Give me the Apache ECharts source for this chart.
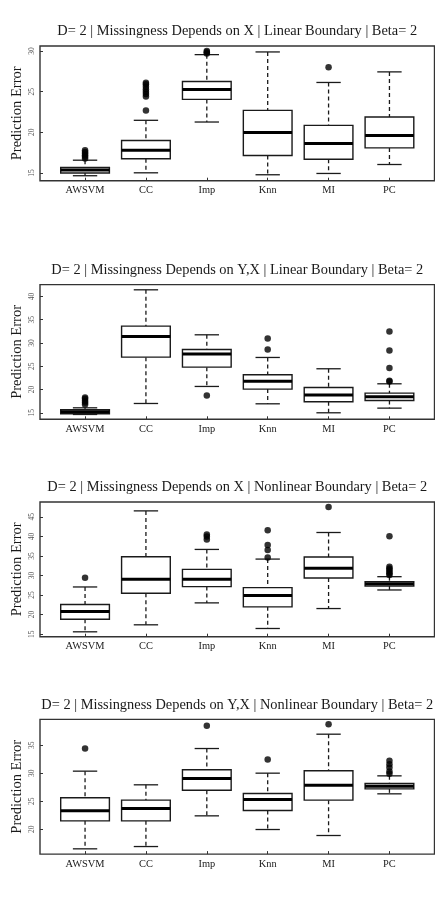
<!DOCTYPE html>
<html>
<head>
<meta charset="utf-8">
<script src="https://cdn.jsdelivr.net/npm/echarts@6/dist/echarts.min.js"></script>
<style>
html, body { margin: 0; padding: 0; background: #fff; }
#main { width: 435px; height: 898px; }
</style>
</head>
<body>
<div id="main"></div>
<script>
var methods = ['AWSVM', 'CC', 'Imp', 'Knn', 'MI', 'PC'];

var titles = [
    'D= 2 | Missingness Depends on X | Linear Boundary | Beta= 2',
    'D= 2 | Missingness Depends on Y,X | Linear Boundary | Beta= 2',
    'D= 2 | Missingness Depends on X | Nonlinear Boundary | Beta= 2',
    'D= 2 | Missingness Depends on Y,X | Nonlinear Boundary | Beta= 2'
];

// box stats per method: [lower whisker, Q1, median, Q3, upper whisker]
var stats1 = [
    [14.67, 15.0, 15.36, 15.69, 16.58],
    [15.03, 16.75, 17.81, 18.99, 21.48],
    [21.27, 24.05, 25.27, 26.25, 29.55],
    [14.79, 17.15, 19.97, 22.7, 29.88],
    [14.95, 16.7, 18.62, 20.86, 26.13],
    [16.05, 18.09, 19.6, 21.88, 27.43]
];
var outliers1 = [
    [16.8, 17.0, 17.2, 17.4, 17.6, 17.8],
    [22.7, 24.4, 24.7, 25.0, 25.3, 25.6, 25.9, 26.1],
    [29.7, 29.85, 30.0],
    [],
    [28.0],
    []
];

var stats2 = [
    [14.64, 14.79, 15.21, 15.64, 16.07],
    [17.0, 26.96, 31.4, 33.62, 41.43],
    [20.66, 24.81, 27.61, 28.61, 31.76],
    [16.93, 20.09, 21.8, 23.17, 26.89],
    [15.0, 17.36, 18.8, 20.44, 24.46],
    [16.0, 17.65, 18.44, 19.23, 21.23]
];
var outliers2 = [
    [16.8, 17.2, 17.6, 18.0, 18.3],
    [],
    [18.72],
    [28.6, 30.97],
    [],
    [21.7, 21.9, 24.6, 28.4, 32.48]
];

var stats3 = [
    [15.6, 18.83, 20.79, 22.57, 27.07],
    [17.39, 25.46, 29.03, 34.8, 46.53],
    [23.0, 27.16, 29.03, 31.58, 36.67],
    [16.45, 21.98, 24.86, 26.9, 34.2],
    [21.55, 29.37, 31.83, 34.72, 41.0],
    [26.3, 27.33, 27.92, 28.43, 29.7]
];
var outliers3 = [
    [29.45],
    [],
    [39.2, 40.0, 40.5],
    [34.6, 36.5, 37.8, 41.6],
    [47.55],
    [30.1, 30.5, 30.9, 31.4, 31.8, 32.25, 40.07]
];

var stats4 = [
    [16.49, 21.49, 23.27, 25.6, 30.36],
    [16.9, 21.49, 23.69, 25.18, 27.92],
    [22.38, 26.96, 29.05, 30.6, 34.4],
    [19.94, 23.33, 25.3, 26.37, 30.0],
    [18.87, 25.18, 27.86, 30.42, 36.96],
    [26.31, 27.2, 27.68, 28.15, 29.52]
];
var outliers4 = [
    [34.4],
    [],
    [38.45],
    [32.44],
    [38.75],
    [29.9, 30.3, 31.0, 31.6, 32.2]
];

var yTicks1 = [15, 20, 25, 30];
var yTicks2 = [15, 20, 25, 30, 35, 40];
var yTicks3 = [15, 20, 25, 30, 35, 40, 45];
var yTicks4 = [20, 25, 30, 35];

var panels = [
    {stats: stats1, out: outliers1, ticks: yTicks1, min: 14.06, max: 30.61, top: 46},
    {stats: stats2, out: outliers2, ticks: yTicks2, min: 13.6, max: 42.55, top: 284.6},
    {stats: stats3, out: outliers3, ticks: yTicks3, min: 14.35, max: 48.8, top: 502},
    {stats: stats4, out: outliers4, ticks: yTicks4, min: 15.55, max: 39.6, top: 719.4}
];

var serif = 'Liberation Serif';
var ink = '#1a1a1a';

function renderBox(params, api) {
    var x = api.value(0);
    var lo = api.coord([x, api.value(1)]);
    var q1 = api.coord([x, api.value(2)]);
    var md = api.coord([x, api.value(3)]);
    var q3 = api.coord([x, api.value(4)]);
    var hi = api.coord([x, api.value(5)]);
    var w = api.size([0.8, 0])[0];
    var cx = lo[0];
    var solid = {stroke: ink, lineWidth: 1.3};
    var dash = {stroke: ink, lineWidth: 1.3, lineDash: [4, 3]};
    return {
        type: 'group',
        children: [
            {type: 'line', shape: {x1: cx, y1: hi[1], x2: cx, y2: q3[1]}, style: dash},
            {type: 'line', shape: {x1: cx, y1: q1[1], x2: cx, y2: lo[1]}, style: dash},
            {type: 'line', shape: {x1: cx - w / 4, y1: hi[1], x2: cx + w / 4, y2: hi[1]}, style: solid},
            {type: 'line', shape: {x1: cx - w / 4, y1: lo[1], x2: cx + w / 4, y2: lo[1]}, style: solid},
            {type: 'rect', shape: {x: cx - w / 2, y: q3[1], width: w, height: q1[1] - q3[1]},
                style: {fill: '#fff', stroke: ink, lineWidth: 1.4}},
            {type: 'line', shape: {x1: cx - w / 2, y1: md[1], x2: cx + w / 2, y2: md[1]},
                style: {stroke: '#000', lineWidth: 3}}
        ]
    };
}

var grid = [], xAxis = [], yAxis = [], series = [];

panels.forEach(function (p, k) {
    grid.push({
        left: 40, right: 0.5, top: p.top, height: 134.7,
        outerBoundsMode: 'none', containLabel: false,
        show: true, borderColor: '#333', borderWidth: 1.4, backgroundColor: 'transparent'
    });
    // bottom axis: category labels
    xAxis.push({
        gridIndex: k, type: 'value', min: 0.26, max: 6.74,
        axisLine: {show: false},
        splitLine: {show: false},
        axisTick: {show: true, inside: true, length: 3, customValues: [1, 2, 3, 4, 5, 6],
            lineStyle: {color: '#333'}},
        axisLabel: {
            customValues: [1, 2, 3, 4, 5, 6],
            formatter: function (v) { return methods[Math.round(v) - 1]; },
            fontFamily: serif, fontSize: 10.4, color: ink, margin: 5
        }
    });
    // top axis: carries the panel title, centred over the plot
    xAxis.push({
        gridIndex: k, type: 'value', position: 'top', min: 0.26, max: 6.74,
        name: titles[k], nameLocation: 'middle', nameGap: 7.5,
        nameTextStyle: {fontFamily: serif, fontSize: 14.4, color: ink},
        axisLine: {show: false}, axisTick: {show: false},
        axisLabel: {show: false}, splitLine: {show: false}
    });
    yAxis.push({
        gridIndex: k, type: 'value', min: p.min, max: p.max,
        name: 'Prediction Error', nameLocation: 'middle', nameGap: 15, nameRotate: 90,
        nameMoveOverlap: false,
        nameTextStyle: {fontFamily: serif, fontSize: 14.5, color: ink},
        axisLine: {show: false},
        splitLine: {show: false},
        axisTick: {show: true, inside: true, length: 3, customValues: p.ticks,
            lineStyle: {color: '#333'}},
        axisLabel: {customValues: p.ticks, rotate: 90, fontFamily: serif, fontSize: 7.5,
            color: '#555', margin: 4}
    });

    var boxData = p.stats.map(function (s, i) { return [i + 1].concat(s); });
    var outData = [];
    p.out.forEach(function (list, i) {
        list.forEach(function (v) { outData.push([i + 1, v]); });
    });

    series.push({
        type: 'custom',
        xAxisIndex: 2 * k, yAxisIndex: k,
        renderItem: renderBox,
        encode: {x: 0, y: [1, 2, 3, 4, 5]},
        data: boxData,
        silent: true,
        animation: false
    });
    series.push({
        type: 'scatter',
        xAxisIndex: 2 * k, yAxisIndex: k,
        symbol: 'circle', symbolSize: 6.5,
        itemStyle: {color: '#000'},
        data: outData,
        silent: true,
        animation: false
    });
});

var myChart = echarts.init(document.getElementById('main'));
myChart.setOption({
    backgroundColor: '#fff',
    animation: false,
    grid: grid,
    xAxis: xAxis,
    yAxis: yAxis,
    series: series
});
</script>
</body>
</html>
